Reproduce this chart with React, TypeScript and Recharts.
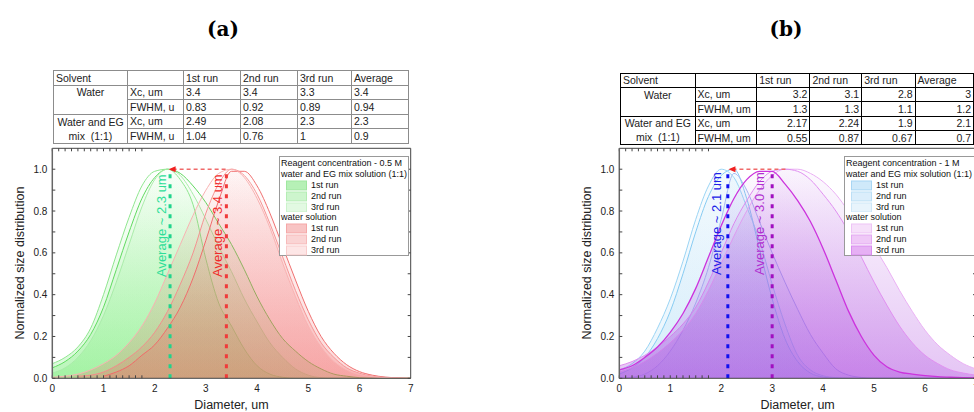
import React from "react";
import { ComposedChart, Area, XAxis, YAxis, ReferenceLine, Scatter } from "recharts";

const FONT = "'Liberation Sans', Arial, sans-serif";

// shared diameter grid, um
const diameters = [0, 0.25, 0.5, 0.75, 1, 1.25, 1.5, 1.75, 2, 2.25, 2.5, 2.75, 3, 3.25, 3.5, 3.75, 4, 4.25, 4.5, 4.75, 5, 5.25, 5.5, 5.75, 6, 6.25, 6.5, 6.75, 7];

// (a) 0.5 M, water + EG mix
const mixA1 = [0.05, 0.08, 0.13, 0.21, 0.34, 0.52, 0.7, 0.86, 0.96, 1.0, 0.98, 0.92, 0.84, 0.74, 0.64, 0.52, 0.39, 0.28, 0.19, 0.13, 0.08, 0.045, 0.02, 0.01, 0.003, 0, 0, 0, 0];
const mixA2 = [0.07, 0.1, 0.15, 0.24, 0.4, 0.59, 0.77, 0.92, 0.99, 1.0, 0.95, 0.83, 0.57, 0.36, 0.25, 0.14, 0.06, 0.02, 0.005, 0, 0, 0, 0, 0, 0, 0, 0, 0, 0];
const mixA3 = [0.025, 0.05, 0.1, 0.18, 0.3, 0.46, 0.64, 0.82, 0.95, 1.0, 0.97, 0.88, 0.76, 0.63, 0.51, 0.38, 0.27, 0.17, 0.1, 0.045, 0.015, 0.003, 0, 0, 0, 0, 0, 0, 0];
// (a) 0.5 M, water
const waterA1 = [null, null, null, null, 0.01, 0.03, 0.06, 0.11, 0.16, 0.24, 0.34, 0.48, 0.66, 0.85, 0.99, 0.99, 0.92, 0.79, 0.63, 0.47, 0.32, 0.2, 0.12, 0.065, 0.032, 0.015, 0.006, 0.002, 0];
const waterA2 = [null, null, 0.01, 0.015, 0.03, 0.06, 0.1, 0.15, 0.22, 0.32, 0.45, 0.6, 0.79, 0.93, 1.0, 0.97, 0.88, 0.74, 0.58, 0.42, 0.28, 0.17, 0.1, 0.05, 0.024, 0.01, 0.004, 0.001, 0];
const waterA3 = [0.005, 0.01, 0.02, 0.04, 0.07, 0.11, 0.17, 0.25, 0.36, 0.5, 0.64, 0.78, 0.9, 0.98, 1.0, 0.96, 0.86, 0.72, 0.55, 0.39, 0.25, 0.15, 0.08, 0.04, 0.018, 0.008, 0.003, 0.001, 0];

// (b) 1 M, water + EG mix
const mixB1 = [0.02, 0.05, 0.1, 0.19, 0.32, 0.5, 0.7, 0.87, 0.97, 1.0, 0.86, 0.62, 0.38, 0.19, 0.08, 0.025, 0.006, 0, 0, 0, 0, 0, 0, 0, 0, 0, 0, 0, 0];
const mixB2 = [0, 0.005, 0.02, 0.06, 0.13, 0.23, 0.36, 0.53, 0.76, 0.98, 0.9, 0.75, 0.6, 0.46, 0.33, 0.21, 0.12, 0.045, 0.015, 0.004, 0, 0, 0, 0, 0, 0, 0, 0, 0];
const mixB3 = [0.04, 0.07, 0.13, 0.24, 0.38, 0.56, 0.76, 0.92, 1.0, 0.96, 0.82, 0.66, 0.45, 0.26, 0.11, 0.04, 0.012, 0.003, 0, 0, 0, 0, 0, 0, 0, 0, 0, 0, 0];
// (b) 1 M, water
const waterB1 = [0.03, 0.05, 0.08, 0.12, 0.17, 0.23, 0.31, 0.42, 0.55, 0.68, 0.8, 0.9, 0.97, 1.0, 1.0, 0.98, 0.94, 0.88, 0.8, 0.73, 0.63, 0.53, 0.42, 0.32, 0.23, 0.16, 0.11, 0.07, 0.045];
const waterB2 = [0.06, 0.08, 0.11, 0.15, 0.2, 0.26, 0.34, 0.46, 0.6, 0.74, 0.85, 0.94, 0.99, 1.0, 0.99, 0.95, 0.88, 0.8, 0.7, 0.58, 0.46, 0.35, 0.25, 0.17, 0.11, 0.07, 0.04, 0.025, 0.015];
const waterB3 = [0.04, 0.06, 0.1, 0.15, 0.22, 0.31, 0.43, 0.58, 0.73, 0.86, 0.95, 0.99, 0.99, 0.93, 0.85, 0.75, 0.62, 0.47, 0.32, 0.2, 0.11, 0.055, 0.03, 0.02, 0.013, 0.008, 0.005, 0.003, 0.002];

const xTicks = [0, 1, 2, 3, 4, 5, 6, 7];
const xMinorTicks = [0, 0.5, 1, 1.5, 2, 2.5, 3, 3.5, 4, 4.5, 5, 5.5, 6, 6.5, 7];
const yTicks = [0, 0.2, 0.4, 0.6, 0.8, 1.0];
const yMinorTicks = [0, 0.1, 0.2, 0.3, 0.4, 0.5, 0.6, 0.7, 0.8, 0.9, 1.0];

// tables
const runHeaders = ["1st run", "2nd run", "3rd run", "Average"];
const tA_waterXc = ["3.4", "3.4", "3.3", "3.4"];
const tA_waterFwhm = ["0.83", "0.92", "0.89", "0.94"];
const tA_mixXc = ["2.49", "2.08", "2.3", "2.3"];
const tA_mixFwhm = ["1.04", "0.76", "1", "0.9"];
const tB_waterXc = ["3.2", "3.1", "2.8", "3"];
const tB_waterFwhm = ["1.3", "1.3", "1.1", "1.2"];
const tB_mixXc = ["2.17", "2.24", "1.9", "2.1"];
const tB_mixFwhm = ["0.55", "0.87", "0.67", "0.7"];

const rowsA = diameters.map((x, i) => ({ x, m1: mixA1[i], m2: mixA2[i], m3: mixA3[i], w1: waterA1[i], w2: waterA2[i], w3: waterA3[i] }));
const rowsB = diameters.map((x, i) => ({ x, m1: mixB1[i], m2: mixB2[i], m3: mixB3[i], w1: waterB1[i], w2: waterB2[i], w3: waterB3[i] }));

type S = { key: string; stroke: string; width: number; fill: string };

const seriesA: S[] = [
  { key: "m1", stroke: "#5fd85f", width: 1, fill: "url(#gGreen)" },
  { key: "m2", stroke: "#8fe68f", width: 1, fill: "url(#gGreen)" },
  { key: "m3", stroke: "#a9eba9", width: 1, fill: "url(#gGreen)" },
  { key: "w1", stroke: "#f07070", width: 1, fill: "url(#gRed)" },
  { key: "w2", stroke: "#f59696", width: 1, fill: "url(#gRed)" },
  { key: "w3", stroke: "#f8b2b2", width: 1, fill: "url(#gRed)" },
];
const seriesB: S[] = [
  { key: "m1", stroke: "#86cbf2", width: 1, fill: "url(#gBlue)" },
  { key: "m2", stroke: "#a8b8f0", width: 1, fill: "url(#gBlue)" },
  { key: "m3", stroke: "#9ad4f4", width: 1, fill: "url(#gBlue)" },
  { key: "w1", stroke: "#eab0f4", width: 1, fill: "url(#gMag)" },
  { key: "w2", stroke: "#e090f0", width: 1, fill: "url(#gMag)" },
  { key: "w3", stroke: "#cc33dd", width: 1.3, fill: "url(#gMag)" },
];

type Mark = { x: number; color: string };
type Txt = { x: number; y0: number; y1: number; text: string; color: string };

function DistChart(props: {
  left: number; width: number; ml: number; mr: number; data: any[]; series: S[];
  marks: Mark[]; texts: Txt[]; arrowFrom: number; arrowTo: number;
}) {
  const { left, width, ml, mr, data, series, marks, texts, arrowFrom, arrowTo } = props;
  const axisCol = "#444";
  const blank = () => "";
  return (
    <div style={{ position: "absolute", left, top: 0 }}>
      <ComposedChart width={width} height={412} data={data} margin={{ top: 148.3, right: mr, bottom: 0, left: ml }}>
        <XAxis dataKey="x" type="number" domain={[0, 7]} ticks={xTicks} interval={0} height={33.7}
          tickSize={0} tickMargin={6.4} tickLine={false} axisLine={{ stroke: axisCol }}
          tick={{ fontSize: 10, fill: "#222", fontFamily: FONT }} allowDataOverflow />
        <XAxis xAxisId="bm" type="number" domain={[0, 7]} ticks={xMinorTicks} interval={0} orientation="bottom" mirror
          tickSize={3} axisLine={false} tickLine={{ stroke: axisCol }} tickFormatter={blank} allowDataOverflow />
        <XAxis xAxisId="tm" type="number" domain={[0, 7]} ticks={xMinorTicks} interval={0} orientation="top" mirror
          tickSize={3} axisLine={{ stroke: axisCol }} tickLine={{ stroke: axisCol }} tickFormatter={blank} allowDataOverflow />
        <YAxis type="number" domain={[0, 1.1]} ticks={yTicks} interval={0} width={30} tickSize={0} tickMargin={5}
          tickLine={false} axisLine={{ stroke: "#666", strokeWidth: 1.5 }} tickFormatter={(v: number) => v.toFixed(1)}
          tick={{ fontSize: 10, fill: "#222", fontFamily: FONT }} allowDataOverflow />
        <YAxis yAxisId="lm" type="number" domain={[0, 1.1]} ticks={yMinorTicks} interval={0} orientation="left" mirror
          tickSize={3} axisLine={false} tickLine={{ stroke: axisCol }} tickFormatter={blank} allowDataOverflow />
        <YAxis yAxisId="rm" type="number" domain={[0, 1.1]} ticks={yMinorTicks} interval={0} orientation="right" mirror
          tickSize={3} axisLine={{ stroke: axisCol }} tickLine={{ stroke: axisCol }} tickFormatter={blank} allowDataOverflow />

        {series.map((s) => (
          <Area key={s.key} type="monotone" dataKey={s.key} stroke={s.stroke} strokeWidth={s.width}
            fill={s.fill} fillOpacity={1} dot={false} activeDot={false} isAnimationActive={false} />
        ))}

        {marks.map((m) => (
          <ReferenceLine key={m.x} segment={[{ x: m.x, y: 0 }, { x: m.x, y: 0.99 }]} stroke={m.color}
            strokeWidth={3} strokeDasharray="4 6" />
        ))}
        <ReferenceLine segment={[{ x: arrowFrom, y: 1 }, { x: arrowTo, y: 1 }]} stroke="#f06a6a"
          strokeWidth={1.5} strokeDasharray="4 3" />
        {texts.map((t) => (
          <ReferenceLine key={t.text} segment={[{ x: t.x, y: t.y0 }, { x: t.x, y: t.y1 }]} stroke="none"
            label={{ value: t.text, angle: -90, position: "center", fill: t.color, fontSize: 13, fontFamily: FONT }} />
        ))}
        <Scatter data={[{ x: arrowFrom, y: 1 }]} dataKey="y" isAnimationActive={false}
          shape={(p: any) => (
            <path d={`M${p.cx - 4},${p.cy} L${p.cx + 3},${p.cy - 3} L${p.cx + 3},${p.cy + 3} Z`} fill="#f02020" />
          )} />
      </ComposedChart>
    </div>
  );
}

type Sw = { fill: string; stroke: string };

function LegendBox(props: { left: number; width: number; title: string; mixSw: Sw[]; waterSw: Sw[] }) {
  const { left, width, title, mixSw, waterSw } = props;
  const lh = 10.9;
  const head = (t: string) => <div style={{ height: lh, lineHeight: `${lh}px`, paddingLeft: 1 }}>{t}</div>;
  const item = (label: string, sw: Sw) => (
    <div key={label} style={{ height: lh, lineHeight: `${lh}px`, display: "flex", alignItems: "center" }}>
      <svg width={22} height={lh} style={{ marginLeft: 6, marginRight: 3 }}>
        <rect x={0.5} y={1} width={20} height={lh - 2} fill={sw.fill} stroke={sw.stroke} />
      </svg>
      <span>{label}</span>
    </div>
  );
  const runs = ["1st run", "2nd run", "3rd run"];
  return (
    <div style={{
      position: "absolute", left, top: 156, width, height: 100, boxSizing: "border-box",
      border: "1px solid #999", background: "#fff", fontFamily: FONT, fontSize: 9, color: "#111",
      paddingTop: 1, whiteSpace: "nowrap",
    }}>
      {head(title)}
      {head("water and EG mix solution (1:1)")}
      {runs.map((r, i) => item(r, mixSw[i]))}
      {head("water solution")}
      {runs.map((r, i) => item(r, waterSw[i]))}
    </div>
  );
}

function RunTable(props: {
  left: number; top: number; widths: number[]; rowH: number; border: string; numAlign: "left" | "right";
  fwhm: string; wXc: string[]; wF: string[]; mXc: string[]; mF: string[];
}) {
  const { left, top, widths, rowH, border, numAlign, fwhm, wXc, wF, mXc, mF } = props;
  const b = `1px solid ${border}`;
  const cell = (extra: React.CSSProperties = {}): React.CSSProperties => ({
    border: b, padding: "0 2px", height: rowH, lineHeight: `${rowH - 1}px`, whiteSpace: "nowrap",
    overflow: "hidden", textAlign: "left", ...extra,
  });
  const num = cell({ textAlign: numAlign });
  return (
    <table style={{
      position: "absolute", left, top, borderCollapse: "collapse", tableLayout: "fixed",
      fontFamily: FONT, fontSize: 10.5, color: "#222",
    }}>
      <colgroup>{widths.map((w, i) => <col key={i} style={{ width: w }} />)}</colgroup>
      <tbody>
        <tr>
          <td style={cell()}>Solvent</td>
          <td style={cell()}></td>
          {runHeaders.map((h) => <td key={h} style={cell()}>{h}</td>)}
        </tr>
        <tr>
          <td style={cell({ textAlign: "center", borderBottom: "none" })}>Water</td>
          <td style={cell()}>Xc, um</td>
          {wXc.map((v, i) => <td key={i} style={num}>{v}</td>)}
        </tr>
        <tr>
          <td style={cell({ borderTop: "none" })}></td>
          <td style={cell()}>{fwhm}</td>
          {wF.map((v, i) => <td key={i} style={num}>{v}</td>)}
        </tr>
        <tr>
          <td style={cell({ textAlign: "center", borderBottom: "none" })}>Water and EG</td>
          <td style={cell()}>Xc, um</td>
          {mXc.map((v, i) => <td key={i} style={num}>{v}</td>)}
        </tr>
        <tr>
          <td style={cell({ textAlign: "center", borderTop: "none", whiteSpace: "pre" })}>{"mix  (1:1)"}</td>
          <td style={cell()}>{fwhm}</td>
          {mF.map((v, i) => <td key={i} style={num}>{v}</td>)}
        </tr>
      </tbody>
    </table>
  );
}

const titleStyle = (cx: number): React.CSSProperties => ({
  position: "absolute", left: cx - 40, top: 17, width: 80, textAlign: "center",
  fontFamily: "'DejaVu Serif', serif", fontWeight: "bold", fontSize: 20, lineHeight: "24px", color: "#000",
});
const xTitle = (cx: number): React.CSSProperties => ({
  position: "absolute", left: cx - 60, top: 398.5, width: 120, textAlign: "center",
  fontFamily: FONT, fontSize: 12.5, lineHeight: "13px", color: "#222",
});
const yTitle = (cx: number): React.CSSProperties => ({
  position: "absolute", left: cx - 110, top: 256.3, width: 220, height: 14, textAlign: "center",
  fontFamily: FONT, fontSize: 12.5, lineHeight: "14px", color: "#222", transform: "rotate(-90deg)",
});

export default function App() {
  return (
    <div style={{ position: "absolute", left: 0, top: 0, width: 974, height: 412, overflow: "hidden", background: "#fff" }}>
      <svg width={0} height={0} style={{ position: "absolute" }}>
        <defs>
          <linearGradient id="gGreen" x1="0" y1="0" x2="0" y2="1">
            <stop offset="0" stopColor="#62ea62" stopOpacity={0.01} />
            <stop offset="1" stopColor="#62ea62" stopOpacity={0.25} />
          </linearGradient>
          <linearGradient id="gRed" x1="0" y1="0" x2="0" y2="1">
            <stop offset="0" stopColor="#f06060" stopOpacity={0.02} />
            <stop offset="1" stopColor="#f06060" stopOpacity={0.24} />
          </linearGradient>
          <linearGradient id="gBlue" x1="0" y1="0" x2="0" y2="1">
            <stop offset="0" stopColor="#8cccf2" stopOpacity={0.05} />
            <stop offset="1" stopColor="#8cccf2" stopOpacity={0.2} />
          </linearGradient>
          <linearGradient id="gMag" x1="0" y1="0" x2="0" y2="1">
            <stop offset="0" stopColor="#b050e0" stopOpacity={0.03} />
            <stop offset="1" stopColor="#b050e0" stopOpacity={0.33} />
          </linearGradient>
        </defs>
      </svg>

      <div style={titleStyle(223)}>(a)</div>
      <div style={titleStyle(786)}>(b)</div>

      <RunTable left={53} top={70} widths={[74, 56, 57, 57, 54, 57]} rowH={13.6} border="#8c8c8c" numAlign="left"
        fwhm="FWHM, u" wXc={tA_waterXc} wF={tA_waterFwhm} mXc={tA_mixXc} mF={tA_mixFwhm} />
      <RunTable left={620} top={72.5} widths={[75, 62, 55, 53, 55, 60]} rowH={13.4} border="#000" numAlign="right"
        fwhm="FWHM, um" wXc={tB_waterXc} wF={tB_waterFwhm} mXc={tB_mixXc} mF={tB_mixFwhm} />

      <DistChart left={0} width={420} ml={22.3} mr={9.3} data={rowsA} series={seriesA}
        marks={[{ x: 2.3, color: "#1fd48c" }, { x: 3.4, color: "#f03a3a" }]}
        texts={[
          { x: 2.14, y0: 0.49, y1: 0.97, text: "Average ~ 2.3 um", color: "#2ede98" },
          { x: 3.22, y0: 0.49, y1: 0.97, text: "Average ~ 3.4 um", color: "#f02a2a" },
        ]}
        arrowFrom={2.35} arrowTo={3.4} />
      <DistChart left={560} width={430} ml={29.3} mr={14} data={rowsB} series={seriesB}
        marks={[{ x: 2.13, color: "#1010f0" }, { x: 3.0, color: "#a010c0" }]}
        texts={[
          { x: 1.91, y0: 0.51, y1: 0.97, text: "Average ~ 2.1 um", color: "#2020e8" },
          { x: 2.75, y0: 0.51, y1: 0.97, text: "Average ~ 3.0 um", color: "#b030d0" },
        ]}
        arrowFrom={2.22} arrowTo={3.3} />

      <LegendBox left={279} width={130} title="Reagent concentration - 0.5 M"
        mixSw={[{ fill: "#b6f0b6", stroke: "#9fe79f" }, { fill: "#cdf5cd", stroke: "#b4edb4" }, { fill: "#e2f9e2", stroke: "#cbf3cb" }]}
        waterSw={[{ fill: "#f8c4c4", stroke: "#f5a8a8" }, { fill: "#fad4d4", stroke: "#f7baba" }, { fill: "#fde6e6", stroke: "#f9cccc" }]} />
      <LegendBox left={844} width={140} title="Reagent concentration - 1 M"
        mixSw={[{ fill: "#cfe9fa", stroke: "#a8d6f4" }, { fill: "#dbeefb", stroke: "#bcdff6" }, { fill: "#e8f4fc", stroke: "#cde7f8" }]}
        waterSw={[{ fill: "#f6e0fa", stroke: "#eec4f6" }, { fill: "#efc8f7", stroke: "#e4a8f2" }, { fill: "#e6b0f4", stroke: "#d98cef" }]} />

      <div style={xTitle(231.5)}>Diameter, um</div>
      <div style={xTitle(797.6)}>Diameter, um</div>
      <div style={yTitle(20)}>Normalized size distribution</div>
      <div style={yTitle(586.7)}>Normalized size distribution</div>
    </div>
  );
}
